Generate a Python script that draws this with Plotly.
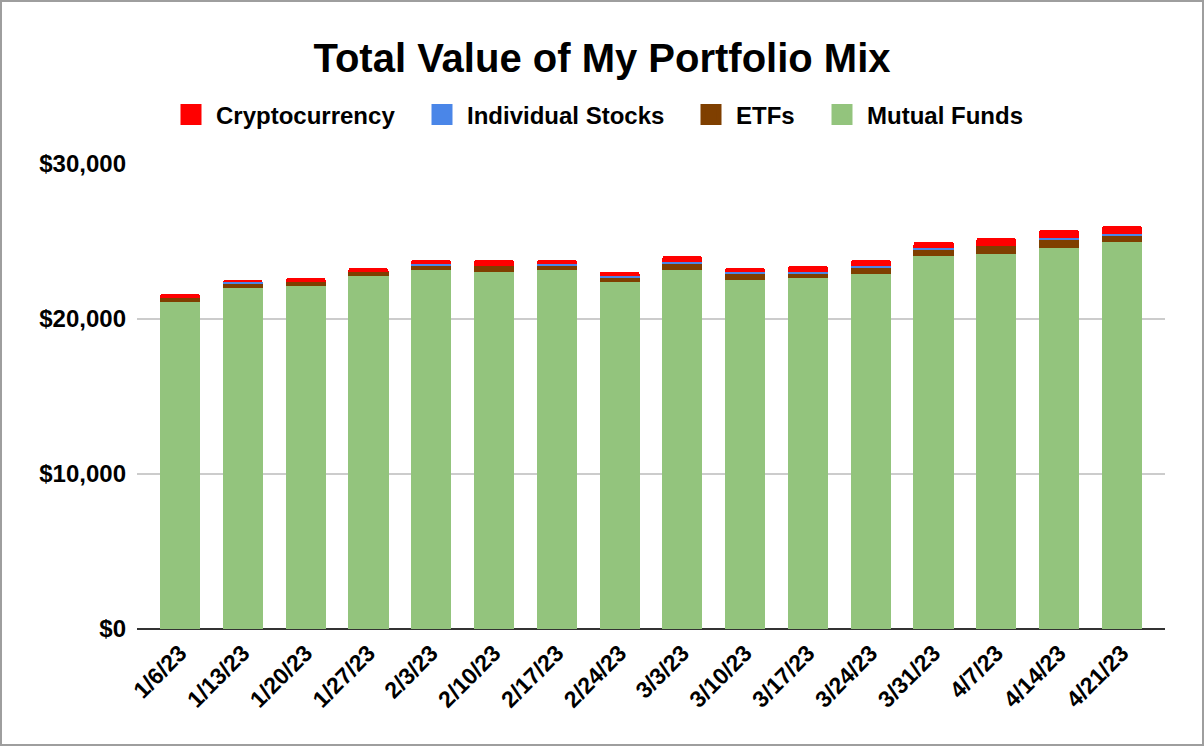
import plotly.graph_objects as go

# 日期（每周）
dates = ["1/6/23", "1/13/23", "1/20/23", "1/27/23", "2/3/23", "2/10/23", "2/17/23", "2/24/23",
         "3/3/23", "3/10/23", "3/17/23", "3/24/23", "3/31/23", "4/7/23", "4/14/23", "4/21/23"]

# 各类资产的价值（美元）
mutual_funds = [21100, 22000, 22130, 22770, 23160, 23030, 23160, 22390,
                23160, 22520, 22650, 22900, 24070, 24190, 24580, 24970]
etfs = [260, 260, 260, 260, 260, 390, 260, 260, 390, 390, 260, 390, 390, 520, 520, 390]
individual_stocks = [0, 130, 0, 0, 130, 0, 130, 130, 130, 130, 130, 130, 130, 0, 130, 130]
cryptocurrency = [260, 130, 260, 260, 260, 390, 260, 260, 390, 260, 390, 390, 390, 520, 520, 520]

y_ticks = [0, 10000, 20000, 30000]
y_tick_labels = ["$0", "$10,000", "$20,000", "$30,000"]

FONT = "Liberation Sans, Arial, sans-serif"

fig = go.Figure()

# 从下往上堆叠
series = [
    ("Mutual Funds", mutual_funds, "#93c47d"),
    ("ETFs", etfs, "#7f3f00"),
    ("Individual Stocks", individual_stocks, "#4a86e8"),
    ("Cryptocurrency", cryptocurrency, "#ff0000"),
]
for name, values, color in series:
    fig.add_trace(go.Bar(
        x=dates, y=values, name=name, legendgroup=name, showlegend=False,
        marker=dict(color=color, line=dict(width=0)),
    ))

# 图例：每个系列单独一个图例，方便控制位置（左边方块的像素位置）
legend_ids = ["legend4", "legend3", "legend2", "legend"]
legend_px = [829, 698, 429, 178]
for (name, values, color), lid in zip(series, legend_ids):
    fig.add_trace(go.Scatter(
        x=[None], y=[None], name=name, legendgroup=name, mode="markers", legend=lid,
        marker=dict(symbol="square", size=16, color=color, line=dict(color=color, width=5)),
    ))

# 外边框（纸面坐标换算到整张图的边缘）
L, R, T, B = 137, 39, 164, 117
W, H = 1204, 746
pw, ph = W - L - R, H - T - B
fig.add_shape(
    type="rect", xref="paper", yref="paper",
    x0=(1 - L) / pw, x1=(W - 1 - L) / pw,
    y0=-(B - 1) / ph, y1=(H - B - 1) / ph,
    line=dict(color="#9e9e9e", width=2), fillcolor="rgba(0,0,0,0)", layer="above",
)

legend_style = dict(
    orientation="h",
    xref="container", yref="container", xanchor="left",
    y=1 - 115 / H, yanchor="middle",
    font=dict(family=FONT, size=24, color="#000000", weight="bold"),
    itemsizing="trace", itemwidth=40,
    bgcolor="rgba(0,0,0,0)",
)

fig.update_layout(
    width=W, height=H,
    barmode="stack",
    bargap=0.36,
    barcornerradius=3,
    paper_bgcolor="white",
    plot_bgcolor="white",
    margin=dict(l=L, r=R, t=T, b=B, autoexpand=False),
    font=dict(family=FONT, size=24, color="#000000", weight="bold"),
    title=dict(
        text="Total Value of My Portfolio Mix",
        font=dict(family=FONT, size=40, color="#000000", weight="bold"),
        x=0.5, xanchor="center", xref="container",
        y=1 - 58 / H, yanchor="middle", yref="container",
    ),
    showlegend=True,
)
for lid, px in zip(legend_ids, legend_px):
    fig.update_layout({lid: dict(legend_style, x=(px - 12) / W)})

fig.update_xaxes(
    type="category",
    range=[-0.685, 15.685],
    tickmode="linear", dtick=1,
    tickangle=-45,
    showgrid=False,
    showline=False,
    ticklabelstandoff=5,
    tickfont=dict(family=FONT, size=23, color="#000000", weight="bold"),
)
fig.update_yaxes(
    range=[0, 30000],
    tickvals=y_ticks,
    ticktext=y_tick_labels,
    showgrid=True, gridcolor="#cccccc", gridwidth=1.5,
    zeroline=True, zerolinecolor="#333333", zerolinewidth=2,
    ticklabelstandoff=10,
    tickfont=dict(family=FONT, size=24, color="#000000", weight="bold"),
)

# 去掉页面默认的 8px 边距，隐藏工具栏
fig.write_html("out.html", config={"displayModeBar": False},
               post_script="document.body.style.margin='0';")
